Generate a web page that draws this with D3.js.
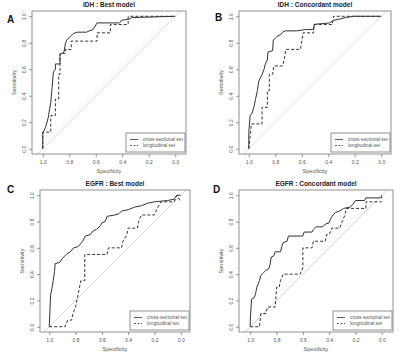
<!DOCTYPE html>
<html>
<head>
<meta charset="utf-8">
<script src="https://cdn.jsdelivr.net/npm/d3@7"></script>
<style>
  body { margin: 0; background: #fff; }
  svg { display: block; font-family: "Liberation Sans", Arial, sans-serif; }
</style>
</head>
<body>
<script>
// ROC points as [specificity, sensitivity]
const idhBestCross = [[1,0],[1,0.12],[0.98,0.16],[0.96,0.23],[0.955,0.26],[0.94,0.35],[0.93,0.46],[0.92,0.58],[0.905,0.6],[0.905,0.64],[0.87,0.64],[0.87,0.71],[0.84,0.73],[0.83,0.79],[0.82,0.82],[0.79,0.85],[0.77,0.87],[0.74,0.88],[0.67,0.88],[0.65,0.89],[0.62,0.9],[0.59,0.95],[0.42,0.95],[0.405,0.97],[0.34,0.98],[0.33,0.99],[0,1]];
const idhBestLong = [[1,0],[1,0.125],[0.94,0.125],[0.94,0.25],[0.905,0.25],[0.905,0.375],[0.88,0.375],[0.88,0.5625],[0.87,0.5625],[0.87,0.72],[0.83,0.72],[0.83,0.75],[0.785,0.75],[0.785,0.8125],[0.59,0.8125],[0.59,0.875],[0.49,0.875],[0.49,0.9375],[0.355,0.9375],[0.355,1],[0,1]];

const idhConcCross = [[1,0],[1,0.12],[0.99,0.25],[0.975,0.27],[0.96,0.32],[0.95,0.37],[0.935,0.44],[0.925,0.51],[0.9,0.56],[0.885,0.6],[0.875,0.64],[0.86,0.67],[0.855,0.73],[0.82,0.74],[0.815,0.82],[0.795,0.84],[0.785,0.85],[0.76,0.86],[0.745,0.88],[0.725,0.89],[0.64,0.89],[0.57,0.9],[0.51,0.9],[0.505,0.94],[0.44,0.945],[0.39,0.95],[0.36,0.97],[0.31,0.98],[0.27,0.99],[0.21,1],[0,1]];
const idhConcLong = [[1,0],[0.98,0.1875],[0.9,0.1875],[0.9,0.3125],[0.86,0.3125],[0.86,0.4375],[0.845,0.4375],[0.845,0.5625],[0.82,0.5625],[0.81,0.625],[0.745,0.625],[0.73,0.6875],[0.72,0.75],[0.61,0.75],[0.6,0.8125],[0.59,0.875],[0.51,0.875],[0.51,0.9375],[0.37,0.9375],[0.36,1],[0,1]];

const egfrBestCross = [[1,0],[0.99,0.24],[0.98,0.29],[0.97,0.35],[0.96,0.42],[0.955,0.48],[0.92,0.49],[0.9,0.52],[0.87,0.55],[0.84,0.57],[0.815,0.6],[0.78,0.61],[0.755,0.64],[0.74,0.66],[0.725,0.69],[0.69,0.7],[0.665,0.73],[0.64,0.74],[0.61,0.77],[0.6,0.79],[0.575,0.8],[0.56,0.84],[0.5,0.85],[0.47,0.86],[0.45,0.88],[0.4,0.89],[0.35,0.91],[0.3,0.92],[0.25,0.94],[0.2,0.95],[0.1,0.96],[0.05,0.97],[0.03,1],[0,1]];
const egfrBestLong = [[1,0],[0.88,0],[0.86,0.05],[0.83,0.05],[0.82,0.1],[0.8,0.15],[0.78,0.25],[0.76,0.35],[0.73,0.35],[0.73,0.55],[0.56,0.55],[0.55,0.6],[0.45,0.6],[0.44,0.65],[0.41,0.7],[0.4,0.75],[0.33,0.75],[0.32,0.8],[0.3,0.85],[0.2,0.85],[0.18,0.9],[0.15,0.95],[0.05,0.95],[0.03,1],[0,0.95]];

const egfrConcCross = [[1,0],[1,0.05],[0.99,0.21],[0.97,0.22],[0.96,0.25],[0.95,0.3],[0.93,0.35],[0.92,0.39],[0.9,0.41],[0.88,0.43],[0.86,0.44],[0.85,0.47],[0.84,0.53],[0.82,0.54],[0.81,0.57],[0.77,0.57],[0.76,0.61],[0.75,0.64],[0.72,0.65],[0.71,0.69],[0.6,0.69],[0.59,0.72],[0.53,0.72],[0.52,0.74],[0.5,0.76],[0.45,0.76],[0.43,0.78],[0.4,0.79],[0.39,0.82],[0.37,0.85],[0.35,0.87],[0.32,0.88],[0.29,0.9],[0.24,0.91],[0.22,0.93],[0.2,0.96],[0.13,0.96],[0.12,0.98],[0,0.98],[0,1]];
const egfrConcLong = [[1,0],[0.93,0],[0.92,0.1],[0.88,0.1],[0.87,0.15],[0.81,0.15],[0.8,0.3],[0.78,0.3],[0.77,0.35],[0.75,0.4],[0.62,0.4],[0.6,0.45],[0.6,0.6],[0.53,0.6],[0.52,0.65],[0.43,0.65],[0.42,0.7],[0.4,0.7],[0.38,0.75],[0.32,0.75],[0.3,0.8],[0.28,0.85],[0.27,0.9],[0.12,0.9],[0.12,0.95],[0,0.95]];

const ticks = [0, 0.2, 0.4, 0.6, 0.8, 1.0];
const tickLabels = ["0.0", "0.2", "0.4", "0.6", "0.8", "1.0"];
const legendLabels = ["cross-sectional set", "longitudinal set"];

const panels = [
  { letter: "A", title: "IDH : Best model", cross: idhBestCross, long: idhBestLong,
    box: { x: 32, y: 11, w: 154, h: 143 }, lx: 7, ly: 23 },
  { letter: "B", title: "IDH : Concordant model", cross: idhConcCross, long: idhConcLong,
    box: { x: 239, y: 11, w: 152, h: 143 }, lx: 215, ly: 21 },
  { letter: "C", title: "EGFR : Best model", cross: egfrBestCross, long: egfrBestLong,
    box: { x: 40, y: 190, w: 150, h: 142 }, lx: 7, ly: 193 },
  { letter: "D", title: "EGFR : Concordant model", cross: egfrConcCross, long: egfrConcLong,
    box: { x: 239, y: 190, w: 154, h: 142 }, lx: 213, ly: 193 }
];

const svg = d3.select("body").append("svg")
  .attr("width", 400)
  .attr("height", 359);

const axisGrey = "#777";
const textGrey = "#555";

panels.forEach(p => {
  const b = p.box;
  const g = svg.append("g");

  // y: R default 4% padding; x: same unit as y (square aspect)
  const y = d3.scaleLinear().domain([-0.04, 1.04]).range([b.y + b.h, b.y]);
  const unit = b.h / 1.08;
  const half = b.w / (2 * unit);
  const x = d3.scaleLinear().domain([0.5 + half, 0.5 - half]).range([b.x, b.x + b.w]);

  const clipId = "clip" + p.letter;
  g.append("clipPath").attr("id", clipId)
    .append("rect").attr("x", b.x).attr("y", b.y).attr("width", b.w).attr("height", b.h);

  // diagonal reference
  g.append("line")
    .attr("clip-path", `url(#${clipId})`)
    .attr("x1", x(1.2)).attr("y1", y(-0.2))
    .attr("x2", x(-0.2)).attr("y2", y(1.2))
    .attr("stroke", "#ccc").attr("stroke-width", 0.8);

  // box
  g.append("rect")
    .attr("x", b.x).attr("y", b.y).attr("width", b.w).attr("height", b.h)
    .attr("fill", "none").attr("stroke", axisGrey).attr("stroke-width", 0.8);

  // axes
  const xAxis = g.append("g")
    .attr("transform", `translate(0,${b.y + b.h})`)
    .call(d3.axisBottom(x).tickValues(ticks).tickFormat((d, i) => tickLabels[i]).tickSize(3).tickPadding(3));
  const yAxis = g.append("g")
    .attr("transform", `translate(${b.x},0)`)
    .call(d3.axisLeft(y).tickValues(ticks).tickFormat((d, i) => tickLabels[i]).tickSize(3).tickPadding(3));
  [xAxis, yAxis].forEach(a => {
    a.select(".domain").remove();
    a.selectAll("line").attr("stroke", axisGrey).attr("stroke-width", 0.8);
    a.selectAll("text").attr("fill", textGrey).style("font-size", "5px");
  });
  yAxis.selectAll(".tick text")
    .attr("text-anchor", "middle")
    .attr("x", null).attr("dy", null)
    .attr("transform", "translate(-8,0) rotate(-90)")
    .attr("dy", "0.35em");

  // axis titles
  g.append("text")
    .attr("x", b.x + b.w / 2).attr("y", b.y + b.h + 19)
    .attr("text-anchor", "middle")
    .attr("fill", textGrey).style("font-size", "5.5px")
    .text("Specificity");
  g.append("text")
    .attr("transform", `translate(${b.x - 16},${b.y + b.h / 2}) rotate(-90)`)
    .attr("text-anchor", "middle")
    .attr("fill", textGrey).style("font-size", "5.5px")
    .text("Sensitivity");

  // title and panel letter
  g.append("text")
    .attr("x", b.x + b.w / 2).attr("y", b.y - 4)
    .attr("text-anchor", "middle")
    .attr("fill", "#222").style("font-size", "6.5px").style("font-weight", "bold")
    .text(p.title);
  g.append("text")
    .attr("x", p.lx).attr("y", p.ly)
    .attr("fill", "#111").style("font-size", "10px").style("font-weight", "bold")
    .text(p.letter);

  // curves
  const line = d3.line().x(d => x(d[0])).y(d => y(d[1]));
  g.append("path")
    .datum(p.cross)
    .attr("d", line)
    .attr("fill", "none").attr("stroke", "#333").attr("stroke-width", 1);
  g.append("path")
    .datum(p.long)
    .attr("d", line)
    .attr("fill", "none").attr("stroke", "#333").attr("stroke-width", 1)
    .attr("stroke-dasharray", "3,2");

  // legend
  const lw = 59, lh = 19;
  const lx = b.x + b.w - lw - 1, ly = b.y + b.h - lh - 2;
  const leg = g.append("g").attr("transform", `translate(${lx},${ly})`);
  leg.append("rect")
    .attr("width", lw).attr("height", lh)
    .attr("fill", "#fff").attr("stroke", axisGrey).attr("stroke-width", 0.8);
  legendLabels.forEach((t, i) => {
    const yy = 6.5 + i * 6;
    leg.append("line")
      .attr("x1", 4).attr("x2", 12).attr("y1", yy).attr("y2", yy)
      .attr("stroke", "#333").attr("stroke-width", 0.8)
      .attr("stroke-dasharray", i === 1 ? "2,1.5" : null);
    leg.append("text")
      .attr("x", 17).attr("y", yy).attr("dy", "0.35em")
      .attr("fill", textGrey).style("font-size", "4.8px")
      .text(t);
  });
});
</script>
</body>
</html>
